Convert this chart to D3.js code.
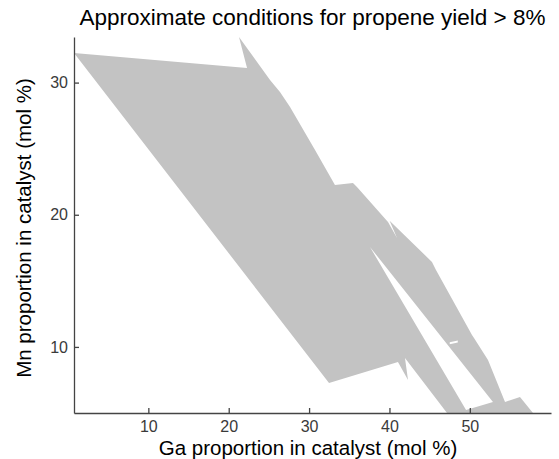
<!DOCTYPE html>
<html>
<head>
<meta charset="utf-8">
<script src="https://cdn.jsdelivr.net/npm/d3@7"></script>
<style>
  body { margin: 0; background: #fff; }
  svg { display: block; font-family: "Liberation Sans", Arial, sans-serif; }
</style>
</head>
<body>
<div class="chart"></div>
<script>
// region where propene yield > 8%  [Ga mol %, Mn mol %]
const regionOutline = [
  [0.75, 32.24], [22.28, 31.10], [21.28, 33.45], [25.14, 30.20], [26.38, 29.29],
  [27.63, 28.15], [30.74, 24.90], [33.22, 22.25], [35.46, 22.40], [35.96, 22.10],
  [39.82, 19.45], [40.94, 18.24], [40.02, 19.55], [45.29, 16.43], [45.79, 15.82],
  [50.27, 10.90], [50.52, 10.67], [52.26, 9.01], [54.38, 5.83], [56.24, 6.21],
  [57.86, 5.00], [47.16, 5.00], [41.93, 9.16], [42.31, 7.50], [41.06, 8.86],
  [32.48, 7.27]
];
// gaps inside the region
const regionGap = [[37.58, 17.56], [49.53, 5.23], [52.88, 5.83]];
const regionDash = [[47.5, 10.20], [48.5, 10.33], [48.5, 10.48], [47.5, 10.35]];

const xTicks = [10, 20, 30, 40, 50];
const yTicks = [10, 20, 30];
const xDomain = [0.75, 60.1];
const yDomain = [5, 33.45];

const width = 559;
const height = 459;
const margin = {top: 37, left: 74, right: 8, bottom: 46};

const x = d3.scaleLinear().domain(xDomain).range([margin.left, width - margin.right]);
const y = d3.scaleLinear().domain(yDomain).range([height - margin.bottom, margin.top]);

const svg = d3.select('.chart').append('svg')
  .attr('width', width).attr('height', height);

const ring = pts => 'M' + pts.map(d => `${x(d[0])},${y(d[1])}`).join('L') + 'Z';

svg.append('path')
  .attr('d', ring(regionOutline) + ring(regionGap) + ring(regionDash))
  .attr('fill', '#c3c3c3')
  .attr('fill-rule', 'evenodd');

const xAxis = svg.append('g')
  .attr('transform', `translate(0,${height - margin.bottom})`)
  .call(d3.axisBottom(x).tickValues(xTicks).tickSizeInner(-5).tickSizeOuter(0).tickPadding(8));
const yAxis = svg.append('g')
  .attr('transform', `translate(${margin.left},0)`)
  .call(d3.axisLeft(y).tickValues(yTicks).tickSizeInner(-5).tickSizeOuter(0).tickPadding(6));

[xAxis, yAxis].forEach(g => {
  g.select('.domain').attr('stroke', '#444').attr('stroke-width', 1.3);
  g.selectAll('.tick line').attr('stroke', '#444').attr('stroke-width', 1.3);
  g.selectAll('.tick text').attr('fill', '#3a3a3a').style('font-size', '16px')
    .style('font-family', '"Liberation Sans", Arial, sans-serif');
});

svg.append('text')
  .attr('x', (margin.left + width - margin.right) / 2).attr('y', 25)
  .attr('text-anchor', 'middle').style('font-size', '22.5px')
  .text('Approximate conditions for propene yield > 8%');

svg.append('text')
  .attr('x', 308).attr('y', 455)
  .attr('text-anchor', 'middle').style('font-size', '20.5px')
  .text('Ga proportion in catalyst (mol %)');

svg.append('text')
  .attr('transform', 'translate(30.5,228) rotate(-90)')
  .attr('text-anchor', 'middle').style('font-size', '20.5px')
  .text('Mn proportion in catalyst (mol %)');
</script>
</body>
</html>
